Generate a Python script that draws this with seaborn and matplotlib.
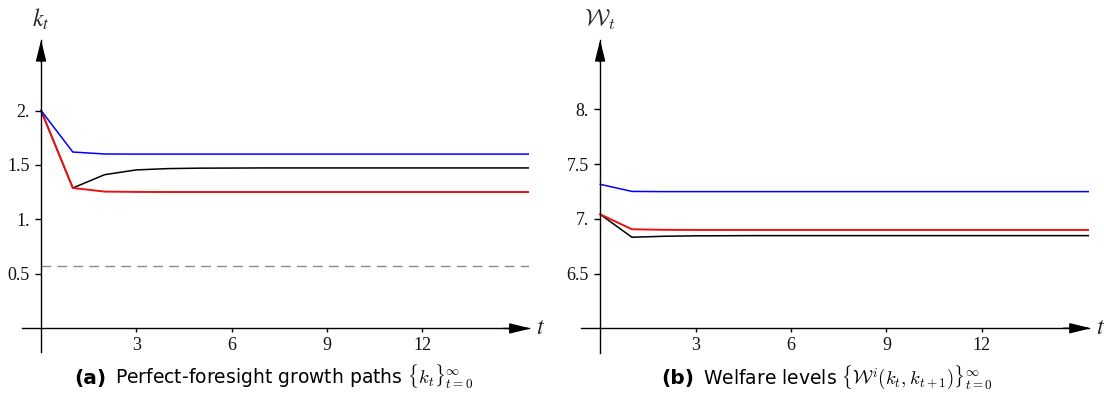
import matplotlib
matplotlib.use("Agg")
import matplotlib.pyplot as plt
import pandas as pd
import seaborn as sns
from matplotlib.offsetbox import TextArea, HPacker, AnnotationBbox

# ---- data -------------------------------------------------------------
t = list(range(17))

# capital paths k_t
k_high = [2.0, 1.619, 1.601, 1.600, 1.600, 1.600, 1.600, 1.600, 1.600,
          1.600, 1.600, 1.600, 1.600, 1.600, 1.600, 1.600, 1.600]
k_mid = [2.0, 1.289, 1.411, 1.455, 1.467, 1.471, 1.472, 1.473, 1.473,
         1.473, 1.473, 1.473, 1.473, 1.473, 1.473, 1.473, 1.473]
k_low = [2.0, 1.289, 1.256, 1.253, 1.252, 1.252, 1.252, 1.252, 1.252,
         1.252, 1.252, 1.252, 1.252, 1.252, 1.252, 1.252, 1.252]
k_floor = 0.57

# welfare levels W_t
w_high = [7.316, 7.251, 7.249, 7.249, 7.249, 7.249, 7.249, 7.249, 7.249,
          7.249, 7.249, 7.249, 7.249, 7.249, 7.249, 7.249, 7.249]
w_mid = [7.042, 6.832, 6.841, 6.845, 6.846, 6.847, 6.847, 6.847, 6.847,
         6.847, 6.847, 6.847, 6.847, 6.847, 6.847, 6.847, 6.847]
w_low = [7.042, 6.905, 6.900, 6.899, 6.899, 6.899, 6.899, 6.899, 6.899,
         6.899, 6.899, 6.899, 6.899, 6.899, 6.899, 6.899, 6.899]

x_ticks = [3, 6, 9, 12]
k_ticks = [0.5, 1.0, 1.5, 2.0]
k_tick_labels = ["0.5", "1.", "1.5", "2."]
w_ticks = [6.5, 7.0, 7.5, 8.0]
w_tick_labels = ["6.5", "7.", "7.5", "8."]

# ---- style ------------------------------------------------------------
sns.set_theme(style="white")
plt.rcParams["font.family"] = ["Liberation Serif", "DejaVu Serif"]
plt.rcParams["axes.facecolor"] = "white"
plt.rcParams["figure.facecolor"] = "white"

W, H = 1104, 403
fig = plt.figure(figsize=(W / 100, H / 100), dpi=100)


def px_axes(left, right, top, bottom):
    return fig.add_axes([left / W, 1 - bottom / H, (right - left) / W, (bottom - top) / H])


ax1 = px_axes(21.7, 528.7, 40, 352)
ax2 = px_axes(580.7, 1088.8, 40, 353)


def draw_series(ax, values, color, lw):
    df = pd.DataFrame({"t": t, "v": values})
    sns.lineplot(data=df, x="t", y="v", color=color, linewidth=lw, ax=ax,
                 legend=False, estimator=None)


def dress(ax, x0, y0, ylim, yticks, ylabels, ylab, ylab_family="stix"):
    ax.set_xlim(-0.61, 15.36)
    ax.set_ylim(*ylim)
    for s in ("top", "right"):
        ax.spines[s].set_visible(False)
    ax.spines["left"].set_position(("data", x0))
    ax.spines["bottom"].set_position(("data", y0))
    for s in ("left", "bottom"):
        ax.spines[s].set_color("black")
        ax.spines[s].set_linewidth(1.0)
    ax.set_xticks(x_ticks)
    ax.set_xticklabels([str(v) for v in x_ticks])
    ax.set_yticks(yticks)
    ax.set_yticklabels(ylabels)
    ax.tick_params(axis="y", direction="out", length=4.5, width=1, color="black",
                   pad=3.5, labelsize=13, labelcolor="#111111", left=True)
    ax.tick_params(axis="x", direction="out", length=3, width=1, color="black",
                   pad=3.5, labelsize=13, labelcolor="#111111", bottom=True)
    ax.set_xlabel("")
    ax.set_ylabel("")
    ax.grid(False)
    head = "-|>,head_length=1.3,head_width=0.32"
    ax.annotate("", xy=(1.004, y0), xytext=(0.95, y0),
                xycoords=("axes fraction", "data"),
                arrowprops=dict(arrowstyle=head, color="black", lw=1.0,
                                shrinkA=0, shrinkB=0, mutation_scale=10),
                annotation_clip=False)
    ax.annotate("", xy=(x0, 1.0), xytext=(x0, 0.93),
                xycoords=("data", "axes fraction"),
                arrowprops=dict(arrowstyle=head, color="black", lw=1.0,
                                shrinkA=0, shrinkB=0, mutation_scale=10),
                annotation_clip=False)
    ax.text(1.015, y0, r"$t$", transform=ax.get_yaxis_transform(),
            ha="left", va="center", fontsize=17, math_fontfamily="stix",
            clip_on=False)
    ax.text(x0, 1.026, ylab, transform=ax.get_xaxis_transform(),
            ha="center", va="bottom", fontsize=17, math_fontfamily=ylab_family,
            clip_on=False)


# ---- panel (a): growth paths -----------------------------------------
ax1.hlines(k_floor, 0, t[-1], colors="#8a8a8a", linestyles=(0, (7, 4.5)), linewidth=1.0)
draw_series(ax1, k_mid, "black", 1.1)
draw_series(ax1, k_low, "#ee1111", 1.4)
draw_series(ax1, k_high, "#0000ff", 1.1)
dress(ax1, 0, 0, (-0.216, 2.647), k_ticks, k_tick_labels, r"$k_t$")

# ---- panel (b): welfare levels ---------------------------------------
draw_series(ax2, w_mid, "black", 1.1)
draw_series(ax2, w_low, "#ee1111", 1.4)
draw_series(ax2, w_high, "#0000ff", 1.1)
dress(ax2, 0, 6.0, (5.774, 8.635), w_ticks, w_tick_labels,
      r"$\mathcal{W}_t$", ylab_family="cm")


# ---- captions ---------------------------------------------------------
def caption(cx, cy, tag, body):
    sans = dict(family="DejaVu Sans", size=13.5, color="black")
    parts = [
        TextArea(tag, textprops=dict(sans, weight="bold", size=14.5)),
        TextArea(body, textprops=dict(sans, math_fontfamily="cm")),
    ]
    box = HPacker(children=parts, align="baseline", pad=0, sep=6)
    ab = AnnotationBbox(box, (cx / W, 1 - cy / H), xycoords="figure fraction",
                        box_alignment=(0.5, 0.5), frameon=False)
    fig.add_artist(ab)


caption(274, 377, "(a)", r"Perfect-foresight growth paths $\{k_t\}_{t=0}^{\infty}$")
caption(827, 377, "(b)", r"Welfare levels $\{\mathcal{W}^i(k_t,k_{t+1})\}_{t=0}^{\infty}$")

fig.savefig("out.png", dpi=100)
